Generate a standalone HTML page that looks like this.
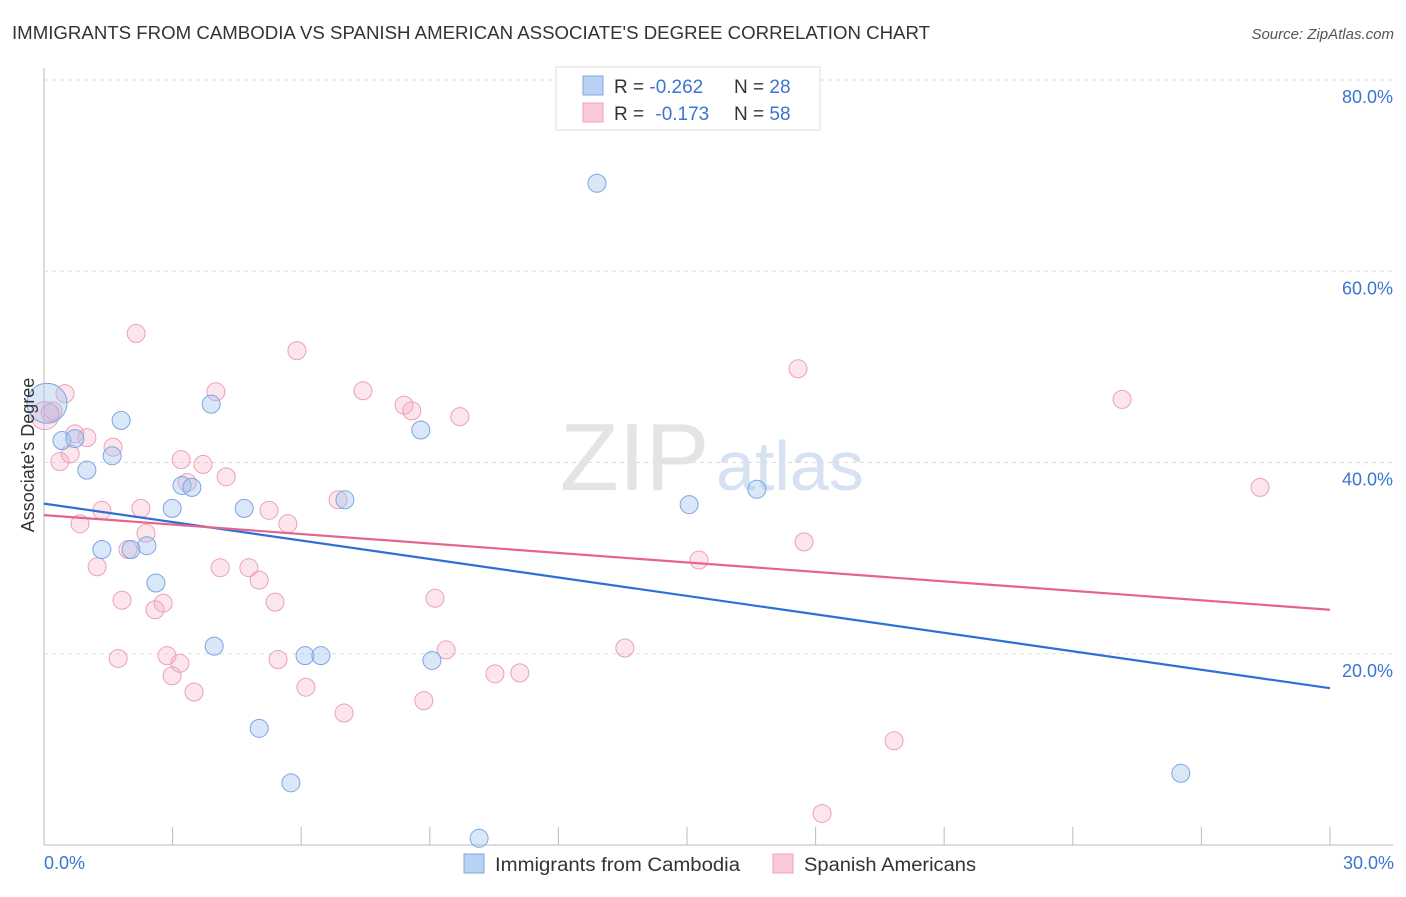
<!DOCTYPE html>
<html><head><meta charset="utf-8"><style>
body{margin:0;background:#fff;font-family:"Liberation Sans",sans-serif;}
svg text{font-family:"Liberation Sans",sans-serif;}
</style></head><body>
<svg id="c" width="1406" height="892">
<text x="12" y="39" font-size="18" fill="#333" textLength="918" lengthAdjust="spacingAndGlyphs">IMMIGRANTS FROM CAMBODIA VS SPANISH AMERICAN ASSOCIATE'S DEGREE CORRELATION CHART</text>
<text x="1394" y="39" font-size="15" fill="#555" font-style="italic" text-anchor="end">Source: ZipAtlas.com</text>
<text x="560" y="490" font-size="96" fill="#e4e4e4" font-family="Liberation Serif">ZIP</text>
<text x="716" y="490" font-size="70" fill="#d6e2f2">atlas</text>
<g id="grid"></g><g id="pts"></g><g id="lines"></g>
<text transform="translate(34,455) rotate(-90)" font-size="18" fill="#333" text-anchor="middle">Associate's Degree</text>
<text x="44" y="869" font-size="18" fill="#3b74d1">0.0%</text>
<text x="1394" y="869" font-size="18" fill="#3b74d1" text-anchor="end">30.0%</text>
<g>
<rect x="556" y="67" width="264" height="63" fill="#fff" stroke="#ddd"/>
<rect x="583" y="76" width="20" height="19" fill="#b9d1f3" stroke="#7fa6e3"/>
<rect x="583" y="103" width="20" height="19" fill="#fac9d8" stroke="#eea2ba"/>
<text x="614" y="93" font-size="19" fill="#333">R = <tspan fill="#3b74d1">-0.262</tspan><tspan x="734">N = </tspan><tspan fill="#3b74d1">28</tspan></text>
<text x="614" y="120" font-size="19" fill="#333">R = <tspan fill="#3b74d1" dx="6">-0.173</tspan><tspan x="734">N = </tspan><tspan fill="#3b74d1">58</tspan></text>
</g>
<g>
<rect x="464" y="854" width="20" height="19" fill="#b9d1f3" stroke="#7fa6e3"/>
<text x="495" y="871" font-size="19" fill="#333" textLength="245" lengthAdjust="spacingAndGlyphs">Immigrants from Cambodia</text>
<rect x="773" y="854" width="20" height="19" fill="#fac9d8" stroke="#eea2ba"/>
<text x="804" y="871" font-size="19" fill="#333" textLength="172" lengthAdjust="spacingAndGlyphs">Spanish Americans</text>
</g>
</svg>
<script>
const yTicks=[20,40,60,80];
const xTicks=[0,3,6,9,12,15,18,21,24,27,30];
const blueX=[0.07,0.42,0.72,1.00,1.59,1.80,1.35,2.03,2.40,2.61,2.99,3.22,3.45,3.90,3.97,4.67,5.02,5.76,6.09,6.46,7.02,8.79,9.05,10.15,12.90,15.05,16.63,26.52];
const blueY=[46.2,42.3,42.5,39.2,40.7,44.4,30.9,30.9,31.3,27.4,35.2,37.6,37.4,46.1,20.8,35.2,12.2,6.5,19.8,19.8,36.1,43.4,19.3,0.7,69.2,35.6,37.2,7.5];
const pinkX=[0.02,0.14,0.49,0.21,0.37,0.61,0.72,1.00,0.84,1.24,1.35,1.61,1.73,1.82,1.96,2.15,2.26,2.38,2.59,2.78,2.87,2.99,3.17,3.20,3.34,3.50,3.71,4.01,4.11,4.25,4.78,5.02,5.25,5.39,5.69,5.46,5.90,6.11,6.86,7.00,7.44,8.40,8.58,8.86,9.12,9.38,9.70,10.52,11.10,13.55,15.28,17.59,17.73,18.15,19.83,25.15,28.37];
const pinkY=[44.9,45.2,47.2,45.4,40.1,40.9,43.0,42.6,33.6,29.1,35.0,41.6,19.5,25.6,30.9,53.5,35.2,32.6,24.6,25.3,19.8,17.7,19.0,40.3,37.9,16.0,39.8,47.4,29.0,38.5,29.0,27.7,35.0,25.4,33.6,19.4,51.7,16.5,36.1,13.8,47.5,46.0,45.4,15.1,25.8,20.4,44.8,17.9,18.0,20.6,29.8,49.8,31.7,3.3,10.9,46.6,37.4];
const blueTrend=[35.7,16.4];
const pinkTrend=[34.5,24.6];
const NS='http://www.w3.org/2000/svg';
const X=v=>44+v/30*1286, Y=v=>845-v/20*191.25;
function mk(t,a,p){const e=document.createElementNS(NS,t);for(const k in a)e.setAttribute(k,a[k]);p.appendChild(e);return e;}
const g=document.getElementById('grid');
let ax=mk('line',{x1:44,y1:68,x2:44,y2:845,stroke:'#bbb'},g);


let bx=mk('line',{x1:44,y1:845,x2:1393,y2:845,stroke:'#bbb'},g);


yTicks.forEach(t=>{
 const l=mk('line',{x1:44,y1:Y(t),x2:1393,y2:Y(t),stroke:'#ddd','stroke-dasharray':'4,4'},g);
 
 
 const tx=mk('text',{x:1393,y:Y(t)+23,'font-size':18,fill:'#3b74d1','text-anchor':'end'},g);
 tx.textContent=t.toFixed(1)+'%';
 
 
});
xTicks.forEach(t=>{
 const l=mk('line',{x1:X(t),y1:827,x2:X(t),y2:845,stroke:'#bbb'},g);
 
 
});
const p=document.getElementById('pts');
function dots(xs,ys,fill,stroke,name){xs.forEach((x,i)=>{
 const r=(i===0)?(name==='blue-point'?20:14):9;
 const c=mk('circle',{cx:X(x),cy:Y(ys[i]),r:r,fill:fill,stroke:stroke,'stroke-width':1},p);
 
 
});}
dots(pinkX,pinkY,'rgba(246,170,196,0.3)','#eca0b9','pink-point');
dots(blueX,blueY,'rgba(160,196,240,0.4)','#7aa6e4','blue-point');
const L=document.getElementById('lines');
const bl=mk('line',{x1:X(0),y1:Y(blueTrend[0]),x2:X(30),y2:Y(blueTrend[1]),stroke:'#2f6fd6','stroke-width':2.2},L);


const pl=mk('line',{x1:X(0),y1:Y(pinkTrend[0]),x2:X(30),y2:Y(pinkTrend[1]),stroke:'#e4648f','stroke-width':2.2},L);


</script>
</body></html>
